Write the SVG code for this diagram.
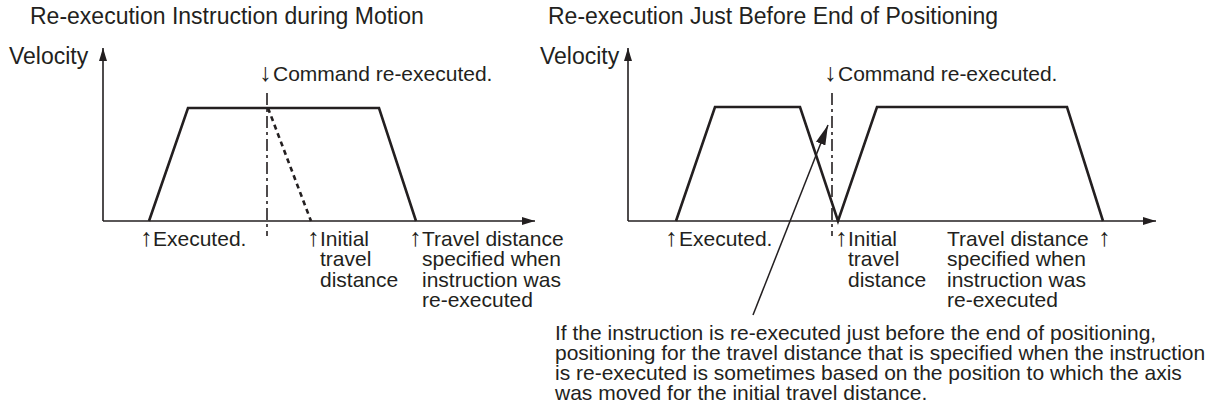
<svg xmlns="http://www.w3.org/2000/svg" width="1228" height="411" viewBox="0 0 1228 411">
<style>
  text { font-family: "Liberation Sans", Arial, Helvetica, sans-serif; fill: #231f20; }
  .title { font-size: 23px; }
  .axislbl { font-size: 23px; }
  .lbl { font-size: 21px; }
  .arr { font-size: 25px; }
  .axis { stroke: #231f20; stroke-width: 1.6; fill: none; }
  .profile { stroke: #231f20; stroke-width: 2.6; fill: none; stroke-linejoin: miter; }
  .dotted { stroke: #231f20; stroke-width: 2.6; fill: none; stroke-dasharray: 5 4; }
  .center { stroke: #231f20; stroke-width: 1.6; fill: none; stroke-dasharray: 12 4 3 4; }
  .leader { stroke: #231f20; stroke-width: 1.5; fill: none; }
</style>
<defs>
  <marker id="axhead" viewBox="0 0 13 8" refX="13" refY="4" markerWidth="13" markerHeight="8" markerUnits="userSpaceOnUse" orient="auto">
    <path d="M0,0 L13,4 L0,8 z" fill="#231f20"/>
  </marker>
  <marker id="leadhead" viewBox="0 0 20 10" refX="20" refY="5" markerWidth="20" markerHeight="10" markerUnits="userSpaceOnUse" orient="auto">
    <path d="M0,0 L20,5 L0,10 z" fill="#231f20"/>
  </marker>
</defs>

<g id="left-panel">
  <text id="left-title" class="title" x="30" y="24">Re-execution Instruction during Motion</text>
  <g id="left-axes">
    <text class="axislbl" x="9" y="64">Velocity</text>
    <line class="axis" x1="103" y1="221" x2="103" y2="48" marker-end="url(#axhead)"/>
    <line class="axis" x1="103" y1="221" x2="535" y2="221" marker-end="url(#axhead)"/>
  </g>
  <g id="left-profile">
    <polyline class="profile" points="149,221 188,108 379,108 416,221"/>
    <line class="dotted" x1="268" y1="108" x2="311" y2="221"/>
  </g>
  <g id="left-reexec-marker">
    <line class="center" x1="267" y1="93" x2="267" y2="236"/>
    <text class="lbl" y="81"><tspan class="arr" x="259">↓</tspan><tspan x="273">Command re-executed.</tspan></text>
  </g>
  <g id="left-executed">
    <text class="lbl" y="246"><tspan class="arr" x="140">↑</tspan><tspan x="153">Executed.</tspan></text>
  </g>
  <g id="left-initial">
    <text class="lbl" y="246"><tspan class="arr" x="307">↑</tspan><tspan x="320">Initial</tspan></text>
    <text class="lbl" x="320" y="266">travel</text>
    <text class="lbl" x="320" y="287">distance</text>
  </g>
  <g id="left-travel">
    <text class="lbl" y="246"><tspan class="arr" x="409">↑</tspan><tspan x="422">Travel distance</tspan></text>
    <text class="lbl" x="422" y="266">specified when</text>
    <text class="lbl" x="422" y="287">instruction was</text>
    <text class="lbl" x="422" y="307">re-executed</text>
  </g>
</g>

<g id="right-panel">
  <text id="right-title" class="title" x="548" y="24">Re-execution Just Before End of Positioning</text>
  <g id="right-axes">
    <text class="axislbl" x="540" y="64">Velocity</text>
    <line class="axis" x1="628" y1="221" x2="628" y2="48" marker-end="url(#axhead)"/>
    <line class="axis" x1="628" y1="221" x2="1156" y2="221" marker-end="url(#axhead)"/>
  </g>
  <g id="right-profile">
    <polyline class="profile" points="676,221 715,107 800,107 838,221 877,107 1067,107 1103,221"/>
  </g>
  <g id="right-reexec-marker">
    <line class="center" x1="832" y1="93" x2="832" y2="236"/>
    <text class="lbl" y="81"><tspan class="arr" x="824">↓</tspan><tspan x="838">Command re-executed.</tspan></text>
  </g>
  <g id="right-executed">
    <text class="lbl" y="246"><tspan class="arr" x="665">↑</tspan><tspan x="679">Executed.</tspan></text>
  </g>
  <g id="right-initial">
    <text class="lbl" y="246"><tspan class="arr" x="835">↑</tspan><tspan x="848">Initial</tspan></text>
    <text class="lbl" x="848" y="266">travel</text>
    <text class="lbl" x="848" y="287">distance</text>
  </g>
  <g id="right-travel">
    <text class="lbl" y="246"><tspan x="947">Travel distance</tspan><tspan class="arr" x="1098">↑</tspan></text>
    <text class="lbl" x="947" y="266">specified when</text>
    <text class="lbl" x="947" y="287">instruction was</text>
    <text class="lbl" x="947" y="307">re-executed</text>
  </g>
  <g id="note">
    <text class="lbl" x="555" y="340">If the instruction is re-executed just before the end of positioning,</text>
    <text class="lbl" x="555" y="360">positioning for the travel distance that is specified when the instruction</text>
    <text class="lbl" x="555" y="380">is re-executed is sometimes based on the position to which the axis</text>
    <text class="lbl" x="555" y="400">was moved for the initial travel distance.</text>
  </g>
</g>

<g id="connectors">
  <line class="leader" x1="753" y1="315" x2="828" y2="125" marker-end="url(#leadhead)"/>
</g>
</svg>
